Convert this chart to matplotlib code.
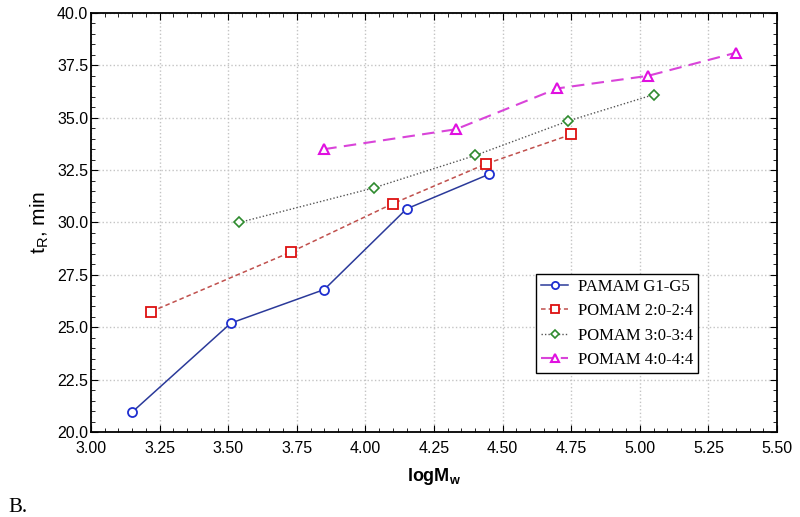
import matplotlib
matplotlib.use('Agg')

import matplotlib.pyplot as plt
from matplotlib.ticker import MultipleLocator, FormatStrFormatter

# Datos
pamam_x = [3.15, 3.51, 3.85, 4.15, 4.45]
pamam_y = [20.95, 25.2, 26.8, 30.65, 32.3]

pomam2_x = [3.22, 3.73, 4.10, 4.44, 4.75]
pomam2_y = [25.75, 28.6, 30.9, 32.8, 34.2]

pomam3_x = [3.54, 4.03, 4.40, 4.74, 5.05]
pomam3_y = [30.0, 31.65, 33.2, 34.85, 36.1]

pomam4_x = [3.85, 4.33, 4.70, 5.03, 5.35]
pomam4_y = [33.5, 34.45, 36.4, 37.0, 38.1]

labels = ['PAMAM G1-G5', 'POMAM 2:0-2:4', 'POMAM 3:0-3:4', 'POMAM 4:0-4:4']

fig = plt.figure(figsize=(8, 5.17), dpi=100)
ax = fig.add_axes([0.11375, 0.1644, 0.8575, 0.8105])

ax.plot(pamam_x, pamam_y, color='#2b3a9a', lw=1.1, ls='-', marker='o', ms=6.5,
        mfc='white', mec='#1f2fd0', mew=1.3, label=labels[0])
ax.plot(pomam2_x, pomam2_y, color='#c0504d', lw=1.1, ls=(0, (3, 2)), marker='s', ms=7,
        mfc='white', mec='#dd1010', mew=1.3, label=labels[1])
ax.plot(pomam3_x, pomam3_y, color='#555555', lw=1.0, ls=(0, (1, 1.5)), marker='D', ms=5,
        mfc='white', mec='#2e8b2e', mew=1.2, label=labels[2])
ax.plot(pomam4_x, pomam4_y, color='#d944d9', lw=1.5, ls=(0, (6, 3.5)), marker='^', ms=7,
        mfc='white', mec='#e010e0', mew=1.5, label=labels[3])

ax.set_xlim(3.0, 5.5)
ax.set_ylim(20.0, 40.0)
ax.xaxis.set_major_locator(MultipleLocator(0.25))
ax.xaxis.set_minor_locator(MultipleLocator(0.05))
ax.yaxis.set_major_locator(MultipleLocator(2.5))
ax.yaxis.set_minor_locator(MultipleLocator(0.5))
ax.xaxis.set_major_formatter(FormatStrFormatter('%.2f'))
ax.yaxis.set_major_formatter(FormatStrFormatter('%.1f'))

ax.tick_params(which='both', direction='in', top=True, right=True)
ax.tick_params(which='major', length=5, labelsize=11.5)
ax.tick_params(axis='y', which='major', pad=2)
ax.tick_params(axis='x', which='major', pad=6.5)
ax.tick_params(which='minor', length=3)
for lab in ax.get_xticklabels() + ax.get_yticklabels():
    lab.set_fontfamily('Liberation Sans')
for s in ax.spines.values():
    s.set_linewidth(1.3)

ax.grid(True, which='major', ls=':', color='#c4c4c4', lw=1.0)

ax.set_xlabel(r'logM$_\mathregular{w}$', fontsize=13, fontweight='bold',
              family='Liberation Sans', labelpad=7)
ax.set_ylabel(r't$_\mathregular{R}$, min', fontsize=15, family='Liberation Sans')

leg = ax.legend(loc='lower left', bbox_to_anchor=(0.649, 0.141), frameon=True, fancybox=False,
                edgecolor='black', framealpha=1, borderpad=0.3, labelspacing=0.5,
                handlelength=1.6, handletextpad=0.6, borderaxespad=0, markerscale=0.8,
                prop={'family': 'Liberation Serif', 'size': 12})
leg.get_frame().set_linewidth(1.0)

fig.text(0.01, 0.01, 'B.', fontsize=15, family='Liberation Serif')

fig.savefig('out.png', dpi=100)
